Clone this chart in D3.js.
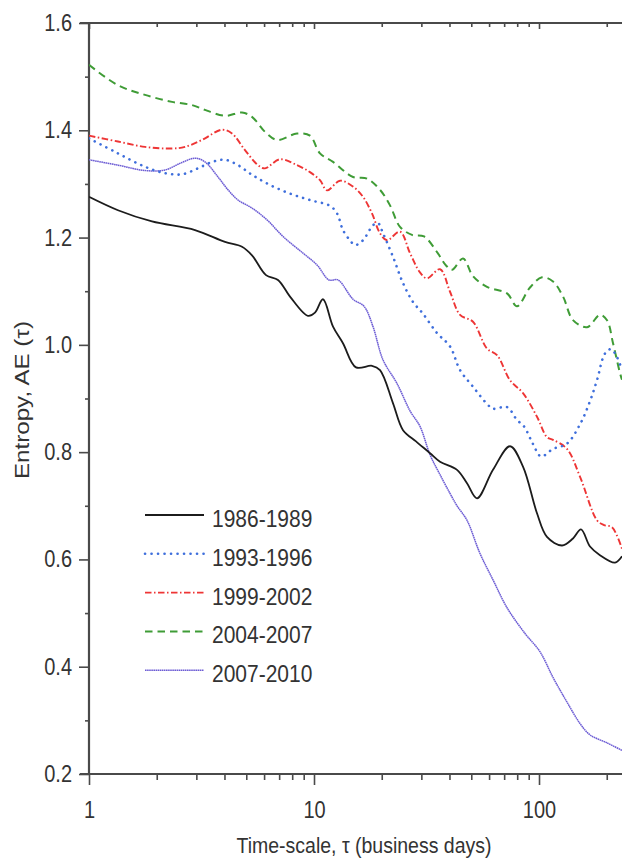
<!DOCTYPE html>
<html>
<head>
<meta charset="utf-8">
<script src="https://cdn.jsdelivr.net/npm/d3@7"></script>
<style>
  html, body { margin: 0; padding: 0; background: #fff; }
  svg { display: block; }
  text { font-family: "Liberation Sans", Arial, Helvetica, sans-serif; fill: #333; }
</style>
</head>
<body>
<svg id="chart" width="622" height="858"></svg>
<script>
// Series names (legend order)
const seriesNames = ["1986-1989", "1993-1996", "1999-2002", "2004-2007", "2007-2010"];

// Time-scale tau (business days) and entropy AE(tau), one pair of arrays per period
const tau1986 = [1.00, 1.345, 1.905, 2.959, 4.023, 4.786, 5.302, 6.120, 6.918, 7.823,
  9.404, 10.10, 10.96, 12.15, 13.45, 15.37, 18.10, 19.65, 22.45, 24.87,
  28.40, 32.79, 36.31, 43.21, 47.86, 53.02, 62.44, 74.32, 84.88, 97.97,
  108.5, 126.6, 141.6, 153.7, 168.5, 186.6, 217.7, 233.8];
const ae1986 = [1.276, 1.251, 1.230, 1.214, 1.192, 1.183, 1.167, 1.130, 1.121, 1.090,
  1.054, 1.060, 1.085, 1.034, 1.003, 0.958, 0.961, 0.953, 0.891, 0.841,
  0.820, 0.798, 0.782, 0.767, 0.742, 0.714, 0.767, 0.811, 0.773, 0.686,
  0.642, 0.626, 0.639, 0.656, 0.624, 0.608, 0.594, 0.606];

const tau1993 = [1.00, 1.345, 1.774, 2.177, 2.591, 3.051, 3.522, 4.023, 4.595, 5.302,
  6.378, 7.823, 9.599, 11.78, 12.66, 13.45, 14.45, 15.21, 16.51, 18.29,
  19.25, 20.26, 22.45, 24.87, 27.54, 30.51, 35.22, 40.23, 44.57, 50.89,
  58.72, 62.44, 72.07, 79.84, 85.76, 94.05, 102.1, 115.4, 133.2, 152.2,
  168.5, 181.0, 196.5, 208.9, 222.2, 233.8];
const ae1993 = [1.385, 1.357, 1.332, 1.320, 1.318, 1.329, 1.341, 1.345, 1.335, 1.317,
  1.298, 1.282, 1.270, 1.259, 1.245, 1.214, 1.195, 1.186, 1.195, 1.223,
  1.227, 1.208, 1.164, 1.115, 1.080, 1.058, 1.022, 0.997, 0.953, 0.922,
  0.890, 0.881, 0.884, 0.860, 0.848, 0.815, 0.792, 0.806, 0.816, 0.852,
  0.895, 0.934, 0.984, 0.992, 0.977, 0.953];

const tau1999 = [1.00, 1.345, 1.774, 2.338, 2.671, 3.179, 3.901, 4.321, 4.935, 5.638,
  6.058, 7.061, 8.403, 9.599, 10.63, 11.42, 13.05, 14.91, 16.51, 18.10,
  19.65, 21.11, 24.11, 26.71, 29.59, 31.79, 36.31, 40.23, 44.57, 50.89,
  58.72, 65.05, 74.32, 84.88, 97.97, 108.5, 115.4, 133.2, 152.2, 181.0,
  194.5, 211.1, 233.8];
const ae1999 = [1.390, 1.379, 1.369, 1.366, 1.369, 1.382, 1.401, 1.394, 1.363, 1.335,
  1.329, 1.346, 1.335, 1.322, 1.307, 1.288, 1.306, 1.295, 1.276, 1.245,
  1.208, 1.195, 1.211, 1.171, 1.135, 1.124, 1.141, 1.099, 1.056, 1.043,
  0.993, 0.981, 0.934, 0.910, 0.866, 0.828, 0.823, 0.806, 0.754, 0.673,
  0.664, 0.660, 0.620];

const tau2004 = [1.00, 1.345, 1.774, 2.338, 2.870, 3.278, 4.023, 4.786, 5.302, 6.058,
  6.848, 8.403, 9.599, 10.63, 12.15, 14.91, 17.20, 19.65, 21.77, 24.11,
  27.26, 30.83, 35.22, 38.62, 41.06, 45.95, 50.89, 58.72, 72.07, 79.84,
  91.20, 103.1, 115.4, 127.9, 141.6, 163.5, 186.6, 200.6, 213.3, 229.1,
  233.8];
const ae2004 = [1.522, 1.484, 1.466, 1.453, 1.447, 1.438, 1.427, 1.433, 1.425, 1.397,
  1.382, 1.394, 1.390, 1.357, 1.341, 1.313, 1.310, 1.289, 1.260, 1.220,
  1.205, 1.202, 1.173, 1.148, 1.140, 1.161, 1.128, 1.108, 1.096, 1.072,
  1.107, 1.126, 1.118, 1.090, 1.046, 1.033, 1.056, 1.046, 1.003, 0.947,
  0.935];

const tau2007 = [1.00, 1.345, 1.774, 2.177, 2.591, 2.959, 3.278, 3.744, 4.148, 4.595,
  5.302, 6.183, 7.282, 8.935, 10.31, 11.66, 12.79, 14.91, 16.68, 18.29,
  20.26, 23.38, 26.71, 29.59, 32.79, 36.31, 40.23, 43.21, 47.86, 54.68,
  62.44, 72.07, 86.65, 101.0, 115.4, 133.2, 152.2, 168.5, 200.6, 233.8];
const ae2007 = [1.345, 1.335, 1.325, 1.326, 1.340, 1.348, 1.341, 1.313, 1.289, 1.270,
  1.255, 1.233, 1.202, 1.171, 1.149, 1.121, 1.121, 1.085, 1.072, 1.034,
  0.972, 0.928, 0.877, 0.848, 0.795, 0.758, 0.723, 0.700, 0.673, 0.611,
  0.562, 0.510, 0.462, 0.428, 0.380, 0.334, 0.294, 0.273, 0.258, 0.244];

// Axis ticks and their labels
const xMajorTicks = [1, 10, 100];
const xTickLabels = ["1", "10", "100"];
const xMinorTicks = [2, 3, 4, 5, 6, 7, 8, 9, 20, 30, 40, 50, 60, 70, 80, 90, 200];
const yMajorTicks = [0.2, 0.4, 0.6, 0.8, 1.0, 1.2, 1.4, 1.6];
const yTickLabels = ["0.2", "0.4", "0.6", "0.8", "1.0", "1.2", "1.4", "1.6"];
const yMinorTicks = [0.3, 0.5, 0.7, 0.9, 1.1, 1.3, 1.5];

const xTitle = "Time-scale, \u03C4 (business days)";
const yTitle = "Entropy, AE (\u03C4)";

// ---- drawing ----
(function draw() {
  const W = 622, H = 858;
  const m = { left: 89, right: 622, top: 23, bottom: 774 };
  const S = 1.15;          // vertical stretch applied to lettering
  const axisColor = "#4a4a4a";

  const svg = d3.select("#chart");
  svg.append("rect").attr("width", W).attr("height", H).attr("fill", "#fff");

  const x = d3.scaleLog().domain([1, 233.8]).range([m.left, m.right]);
  const y = d3.scaleLinear().domain([0.2, 1.6]).range([m.bottom, m.top]);

  const styles = [
    { color: "#1c1c1c", width: 1.8, dash: null, cap: "butt" },
    { color: "#3f6fdc", width: 2.6, dash: "0.1 6.4", cap: "round" },
    { color: "#ee3535", width: 1.9, dash: "6.5 2.5 1.5 2.5", cap: "butt" },
    { color: "#3f9c36", width: 2.0, dash: "7.5 5", cap: "butt" },
    { color: "#6c5cd4", width: 1.5, dash: "1.6 0.5", cap: "butt" }
  ];

  const taus = [tau1986, tau1993, tau1999, tau2004, tau2007];
  const aes = [ae1986, ae1993, ae1999, ae2004, ae2007];
  const series = seriesNames.map((name, i) => ({
    name,
    points: taus[i].map((t, j) => [t, aes[i][j]]),
    style: styles[i]
  }));

  function styleAxis(g) {
    g.selectAll(".tick line").attr("stroke", axisColor).attr("stroke-width", 1.6);
    g.selectAll("text").style("font-size", "20px").attr("fill", "#333");
  }

  // left axis
  const gyMinor = svg.append("g").attr("transform", `translate(${m.left},0)`)
    .call(d3.axisLeft(y).tickValues(yMinorTicks).tickFormat("").tickSize(4).tickSizeOuter(0));
  gyMinor.select(".domain").remove();
  styleAxis(gyMinor);

  const gy = svg.append("g").attr("transform", `translate(${m.left},0)`)
    .call(d3.axisLeft(y).tickValues(yMajorTicks).tickFormat((d, i) => yTickLabels[i]).tickSize(10).tickSizeOuter(0));
  gy.select(".domain").remove();
  styleAxis(gy);
  gy.selectAll(".tick text")
    .attr("x", -17).attr("dy", null).attr("y", 7.5 / S)
    .attr("transform", `scale(1,${S})`);

  // bottom axis
  const gxMinor = svg.append("g").attr("transform", `translate(0,${m.bottom})`)
    .call(d3.axisBottom(x).tickValues(xMinorTicks).tickFormat("").tickSize(6).tickSizeOuter(0));
  gxMinor.select(".domain").remove();
  styleAxis(gxMinor);

  const gx = svg.append("g").attr("transform", `translate(0,${m.bottom})`)
    .call(d3.axisBottom(x).tickValues(xMajorTicks).tickFormat((d, i) => xTickLabels[i]).tickSize(11).tickSizeOuter(0));
  gx.select(".domain").remove();
  styleAxis(gx);
  gx.selectAll(".tick text")
    .attr("dy", null).attr("y", 44 / S)
    .attr("transform", `scale(1,${S})`);

  // top axis (ticks only, pointing inward)
  const gtMinor = svg.append("g").attr("transform", `translate(0,${m.top})`)
    .call(d3.axisTop(x).tickValues(xMinorTicks).tickFormat("").tickSize(-4).tickSizeOuter(0));
  gtMinor.select(".domain").remove();
  styleAxis(gtMinor);
  const gt = svg.append("g").attr("transform", `translate(0,${m.top})`)
    .call(d3.axisTop(x).tickValues(xMajorTicks).tickFormat("").tickSize(-6).tickSizeOuter(0));
  gt.select(".domain").remove();
  styleAxis(gt);

  // frame lines
  const frame = svg.append("g").attr("stroke", axisColor).attr("stroke-width", 2.2).attr("fill", "none");
  frame.append("line").attr("x1", m.left).attr("x2", m.left).attr("y1", y(1.6)).attr("y2", y(0.2));
  frame.append("line").attr("x1", m.left - 9).attr("x2", W).attr("y1", y(0.2)).attr("y2", y(0.2));
  frame.append("line").attr("x1", m.left - 9).attr("x2", W).attr("y1", y(1.6)).attr("y2", y(1.6));

  // series lines
  svg.append("clipPath").attr("id", "plotClip")
    .append("rect").attr("x", m.left).attr("y", m.top)
    .attr("width", m.right - m.left).attr("height", m.bottom - m.top);

  const line = d3.line()
    .x(d => x(d[0]))
    .y(d => y(d[1]))
    .curve(d3.curveCatmullRom.alpha(0.5));

  const plot = svg.append("g").attr("clip-path", "url(#plotClip)");
  // draw in reverse so the earliest period sits on top
  series.slice().reverse().forEach(s => {
    plot.append("path")
      .attr("d", line(s.points))
      .attr("fill", "none")
      .attr("stroke", s.style.color)
      .attr("stroke-width", s.style.width)
      .attr("stroke-dasharray", s.style.dash)
      .attr("stroke-linecap", s.style.cap)
      .attr("stroke-linejoin", "round");
  });

  // legend
  const legend = svg.append("g");
  series.forEach((s, i) => {
    const ly = 515 + i * 38.8;
    legend.append("line")
      .attr("x1", 145).attr("x2", 204).attr("y1", ly).attr("y2", ly)
      .attr("stroke", s.style.color)
      .attr("stroke-width", s.style.width)
      .attr("stroke-dasharray", s.style.dash)
      .attr("stroke-linecap", s.style.cap);
    legend.append("text")
      .attr("transform", `translate(212,${ly + 12}) scale(1,${S})`)
      .style("font-size", "21px")
      .text(s.name);
  });

  // axis titles
  svg.append("text")
    .attr("transform", `translate(364,853) scale(1,${S})`)
    .attr("text-anchor", "middle")
    .style("font-size", "19.5px")
    .text(xTitle);

  svg.append("text")
    .attr("transform", `translate(29,400) scale(1,${S}) rotate(-90)`)
    .attr("text-anchor", "middle")
    .style("font-size", "21px")
    .text(yTitle);
})();
</script>
</body>
</html>
